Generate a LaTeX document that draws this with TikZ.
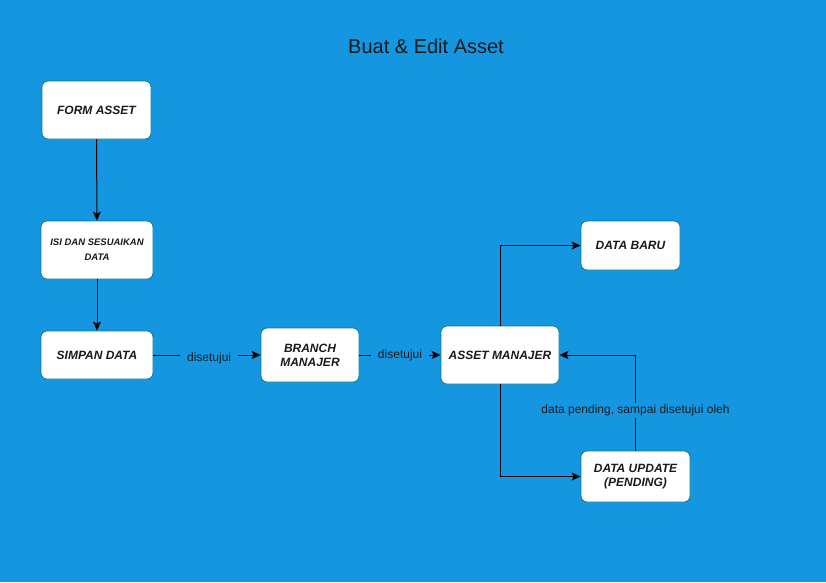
\documentclass[tikz,border=0pt]{standalone}
\usepackage{fontspec}
\setmainfont{Liberation Sans}
\usetikzlibrary{arrows.meta}
\definecolor{bgblue}{HTML}{1496E0}
\definecolor{boxline}{HTML}{0E7A8A}
\definecolor{txt}{HTML}{1A1A1A}
\begin{document}
\begin{tikzpicture}[>={Stealth[length=9pt,width=8pt,inset=2pt]},x=1pt,y=-1pt,
  box/.style={draw=boxline,fill=white,rounded corners=6pt,line width=0.8pt,align=center,
    font=\fontsize{12}{14}\selectfont\bfseries\itshape,text=txt,inner sep=0pt},
  lbl/.style={fill=bgblue,font=\fontsize{12}{14}\selectfont,text=txt,inner ysep=2pt,inner xsep=7pt},
  flow/.style={->,line width=1pt,black}]
\fill[bgblue] (0,0) rectangle (826,582);
\useasboundingbox (0,0) rectangle (826,582);
\node[font=\fontsize{20}{24}\selectfont,text=txt] (title) at (426,46) {Buat \& Edit Asset};
\node[box,minimum width=109pt,minimum height=58pt] (form) at (96.5,110) {FORM ASSET};
\node[box,minimum width=112pt,minimum height=58pt,font=\fontsize{9.5}{15}\selectfont\bfseries\itshape] (isi) at (97,250) {ISI DAN SESUAIKAN\\DATA};
\node[box,minimum width=112pt,minimum height=48pt] (simpan) at (97,355) {SIMPAN DATA};
\node[box,minimum width=98pt,minimum height=54pt] (branch) at (310,355) {BRANCH\\MANAJER};
\node[box,minimum width=118pt,minimum height=58pt] (asset) at (500,355) {ASSET MANAJER};
\node[box,minimum width=99pt,minimum height=49pt] (baru) at (630.5,245.5) {DATA BARU};
\node[box,minimum width=109pt,minimum height=51pt] (update) at (635.5,476.5) {DATA UPDATE\\(PENDING)};
\draw[flow] (form) -- (isi);
\draw[flow] (isi) -- (simpan);
\draw[flow] (simpan) -- node[lbl,pos=0.52,yshift=-3pt] {disetujui} (branch);
\draw[flow] (branch) -- node[lbl,pos=0.5] {disetujui} (asset);
\draw[flow] (asset.north) |- (baru.west);
\draw[flow] (asset.south) |- (update.west);
\draw[flow] (update.north) |- node[lbl,pos=0.21,inner xsep=2pt] {data pending, sampai disetujui oleh} (asset.east);
\end{tikzpicture}
\end{document}
